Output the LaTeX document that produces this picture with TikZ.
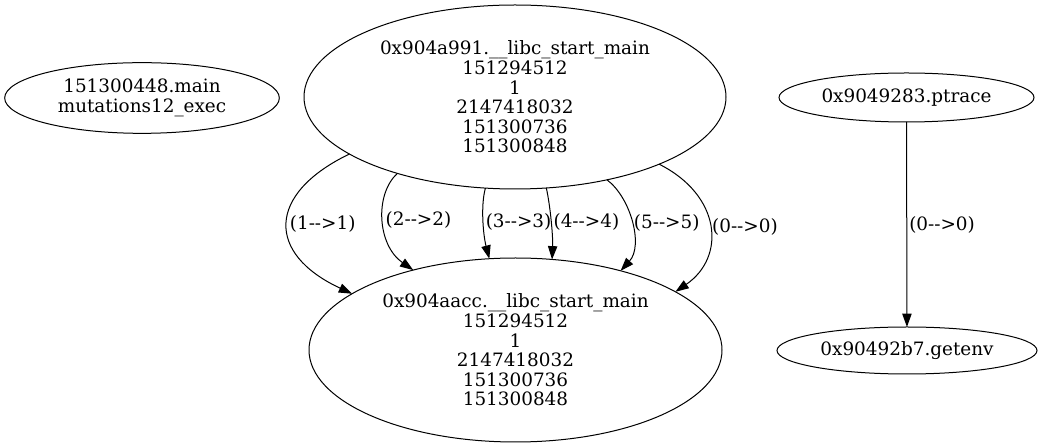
\documentclass[tikz,border=0pt]{standalone}
\usepackage{fontspec}
\setmainfont{DejaVu Serif}
\usetikzlibrary{shapes.geometric,arrows.meta}
\tikzset{
    fn/.style={ellipse,draw,line width=0.75pt,inner sep=0pt,outer sep=0pt,align=center,
        font=\fontsize{13.8}{14.7}\selectfont},
    edge/.style={line width=0.75pt,-{Triangle[length=10pt,width=7pt]}},
    lbl/.style={font=\fontsize{13.8}{14.7}\selectfont,inner sep=1.5pt,anchor=west}
}
\begin{document}
\begin{tikzpicture}[x=0.75pt,y=-0.75pt]
        \useasboundingbox (0,0) rectangle (1042,448);
        % nodes
        \node[fn,minimum width=206pt,minimum height=53pt] (main) at (142,98) {151300448.main\\mutations12\_exec};
        \node[fn,minimum width=316.5pt,minimum height=138pt] (start) at (515,97)
            {0x904a991.\_\_libc\_start\_main\\151294512\\1\\2147418032\\151300736\\151300848};
        \node[fn,minimum width=309.75pt,minimum height=138pt] (startb) at (515.5,350)
            {0x904aacc.\_\_libc\_start\_main\\151294512\\1\\2147418032\\151300736\\151300848};
        \node[fn,minimum width=191.25pt,minimum height=36.75pt] (ptrace) at (906.5,97.5) {0x9049283.ptrace};
        \node[fn,minimum width=195pt,minimum height=35.25pt] (getenv) at (907,350.5) {0x90492b7.getenv};
        %
        \draw[edge] (start.199.4) .. controls +(-83,40) and +(-86,-40) .. node[lbl]{(1-{}->1)} (startb.161.3);
        \draw[edge] (start.213.3) .. controls +(-23,21) and +(-36,-25) .. node[lbl]{(2-{}->2)} (startb.142.3);
        \draw[edge] (start.252.5) .. controls +(-5,18) and +(-6,-23) .. node[lbl]{(3-{}->3)} (startb.106.6);
        \draw[edge] (start.289.2) .. controls +(4,18) and +(1,-23) .. node[lbl]{(4-{}->4)} (startb.68.9);
        \draw[edge] (start.318.3) .. controls +(24,18) and +(23,-25) .. node[lbl]{(5-{}->5)} (startb.37.7);
        \draw[edge] (start.335.2) .. controls +(62,31) and +(51,-35) .. node[lbl]{(0-{}->0)} (startb.20.9);
        %
        \draw[edge] (ptrace) -- node[lbl]{(0-{}->0)} (getenv);
    \end{tikzpicture}
\end{document}
